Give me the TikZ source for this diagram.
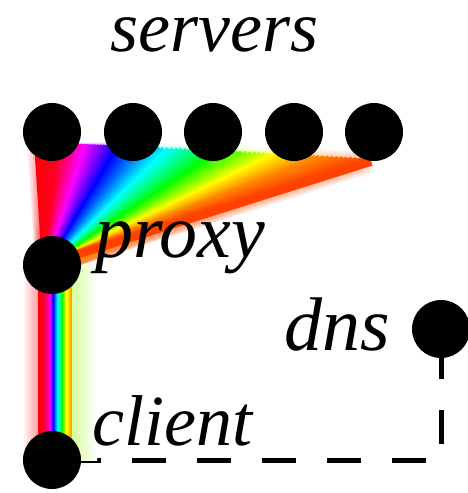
\documentclass[tikz,border=0pt]{standalone}
\usepackage{fontspec}
\setmainfont{Liberation Serif}
\usetikzlibrary{calc,backgrounds}
\tikzset{
  dot/.style={circle, fill=black, minimum size=58pt, inner sep=0pt},
  lab/.style={inner sep=0pt, anchor=base west, font=\itshape\fontsize{76}{80}\selectfont},
  dashline/.style={line width=5pt, dash pattern=on 34pt off 31pt, dash phase=50pt},
}
\begin{document}
\begin{tikzpicture}[x=1pt, y=-1pt]
\useasboundingbox (0,0) rectangle (467,493);
% fan proxy -> servers: segments x_a/h_a/x_b/h_b along server row
\foreach \pass/\lw/\op in {0/22/0.08, 1/8/1}{
\foreach \xa/\ha/\xb/\hb in {38/358/62/352, 62/352/88/300, 88/300/120/240, 120/240/165/185, 165/185/220/120, 220/120/275/60, 275/60/320/32, 320/32/376/14}{
  \foreach \k in {0,...,11}{
    \pgfmathsetmacro\x{\xa+(\xb-\xa)*\k/12}
    \pgfmathsetmacro\h{\ha+(\hb-\ha)*\k/12}
    \pgfmathsetmacro\t{(\x-38)/338}
    \definecolor{fc}{Hsb}{\h,1,1}
    \draw[fc, line width=\lw pt, opacity=\op] (46+30*\t, 265-10*\t) -- (\x, 142+20*\t);
  }
}}
% glow of vertical band
\shade[left color=white, right color=red!40] (22,265) rectangle (39,460);
\shade[left color=yellow!60!green!40, right color=white] (71,265) rectangle (97,460);
% vertical band proxy -> client
\foreach \xa/\ha/\xb/\hb in {38/358/45/345, 45/345/50/295, 50/295/53/240, 53/240/57/185, 57/185/62/115, 62/115/66/60, 66/60/72/30}{
  \foreach \k in {0,...,3}{
    \pgfmathsetmacro\x{\xa+(\xb-\xa)*\k/4}
    \pgfmathsetmacro\h{\ha+(\hb-\ha)*\k/4}
    \definecolor{fc}{Hsb}{\h,1,1}
    \fill[fc] (\x,265) rectangle (\x+1.8,460);
  }
}
% dots
\node[dot] (s1) at (52,132) {};
\node[dot] (s2) at (133,132) {};
\node[dot] (s3) at (213,132) {};
\node[dot] (s4) at (294,132) {};
\node[dot] (s5) at (374,132) {};
\node[dot] (proxy) at (52,265) {};
\node[dot] (client) at (52,460) {};
\node[dot] (dns) at (441,329) {};
% dashed connector client -> dns
\begin{scope}[on background layer]
\draw[dashline] (client.center) -- (client.center -| dns.center) -- (dns.center);
\end{scope}
% labels
\node[lab, font=\itshape\fontsize{72}{76}\selectfont] (tservers) at (110,51) {servers};
\node[lab] (tproxy) at (95,257) {proxy};
\node[lab] (tdns) at (284,350) {dns};
\node[lab, font=\itshape\fontsize{72}{76}\selectfont] (tclient) at (92,445) {client};
\end{tikzpicture}
\end{document}
